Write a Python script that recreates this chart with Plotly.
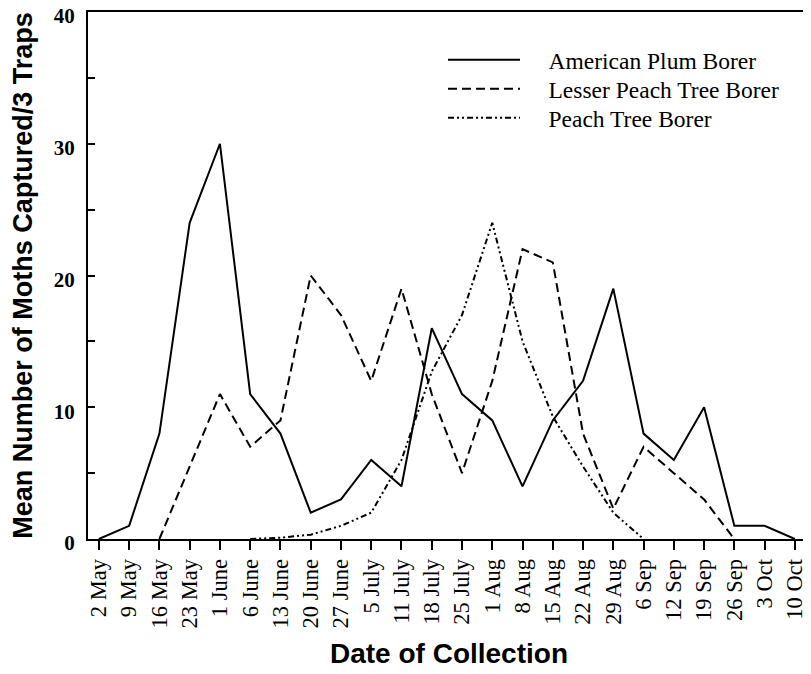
import plotly.graph_objects as go

dates = ["2 May", "9 May", "16 May", "23 May", "1 June", "6 June", "13 June",
         "20 June", "27 June", "5 July", "11 July", "18 July", "25 July",
         "1 Aug", "8 Aug", "15 Aug", "22 Aug", "29 Aug", "6 Sep", "12 Sep",
         "19 Sep", "26 Sep", "3 Oct", "10 Oct"]

american_plum = [0, 1, 8, 24, 30, 11, 8, 2, 3, 6, 4, 16, 11, 9, 4, 9, 12, 19,
                 8, 6, 10, 1, 1, 0]
lesser_peach = [None, None, 0, 5.5, 11, 7, 9, 20, 17, 12, 19, 11, 5, 12, 22,
                21, 8, 2.3, 7, 5, 3, 0, None, None]
peach_tree = [None, None, None, None, None, 0, 0.1, 0.33, 1, 2, 6, 12.7, 17,
              24, 15, 9.3, 5.5, 2, 0, None, None, None, None, None]

series_names = ["American Plum Borer", "Lesser Peach Tree Borer",
                "Peach Tree Borer"]

y_ticks = [0, 5, 10, 15, 20, 25, 30, 35, 40]
y_labels = ["0", "", "10", "", "20", "", "30", "", "40"]

serif = "Liberation Serif"
sans = "Liberation Sans"
pad = "\u00a0" * 4

fig = go.Figure()
fig.add_trace(go.Scatter(x=dates, y=american_plum, mode="lines",
                         name=pad + series_names[0], legend="legend",
                         line=dict(color="black", width=2, dash="solid")))
fig.add_trace(go.Scatter(x=dates, y=lesser_peach, mode="lines",
                         name=pad + series_names[1], legend="legend2",
                         line=dict(color="black", width=2, dash="9px,5px")))
fig.add_trace(go.Scatter(x=dates, y=peach_tree, mode="lines",
                         name=pad + series_names[2], legend="legend3",
                         line=dict(color="black", width=2,
                                   dash="6px,3px,2px,3px,2px,3px")))

legend_style = dict(x=0.4917, xanchor="left", yanchor="middle",
                    font=dict(family=serif, size=23.5, color="black"),
                    bgcolor="rgba(0,0,0,0)", itemwidth=72)

# the page body has an 8px margin, so the figure is sized to fit the window
fig.update_layout(
    width=803, height=666,
    margin=dict(l=80, r=1, t=4, b=135, autoexpand=False),
    paper_bgcolor="white", plot_bgcolor="white",
    showlegend=True,
    legend=dict(y=0.9089, **legend_style),
    legend2=dict(y=0.8539, **legend_style),
    legend3=dict(y=0.7989, **legend_style),
    xaxis=dict(
        type="category", range=[-0.36, 23.5], automargin=False,
        showgrid=False, zeroline=False,
        showline=True, linecolor="black", linewidth=2, mirror=True,
        ticks="outside", ticklen=9, tickwidth=1.5, tickcolor="black",
        tickangle=-90, ticklabeloverflow="allow",
        tickfont=dict(family=serif, size=22.5, color="black"),
        title=dict(text="Date of Collection", standoff=16,
                   font=dict(family=sans, size=28, color="black",
                             weight="bold")),
    ),
    yaxis=dict(
        range=[0, 40], automargin=False,
        tickvals=y_ticks, ticktext=y_labels,
        showgrid=False, zeroline=False,
        showline=True, linecolor="black", linewidth=2, mirror="ticks",
        ticks="inside", ticklen=7, tickwidth=1.5, tickcolor="black",
        ticklabeloverflow="allow", ticklabelstandoff=7, ticklabelshift=4,
        tickfont=dict(family=serif, size=21, color="black", weight="bold"),
        title=dict(text="Mean Number of Moths Captured/3 Traps", standoff=36,
                   font=dict(family=sans, size=27, color="black",
                             weight="bold")),
    ),
)

fig.write_html("out.html")
